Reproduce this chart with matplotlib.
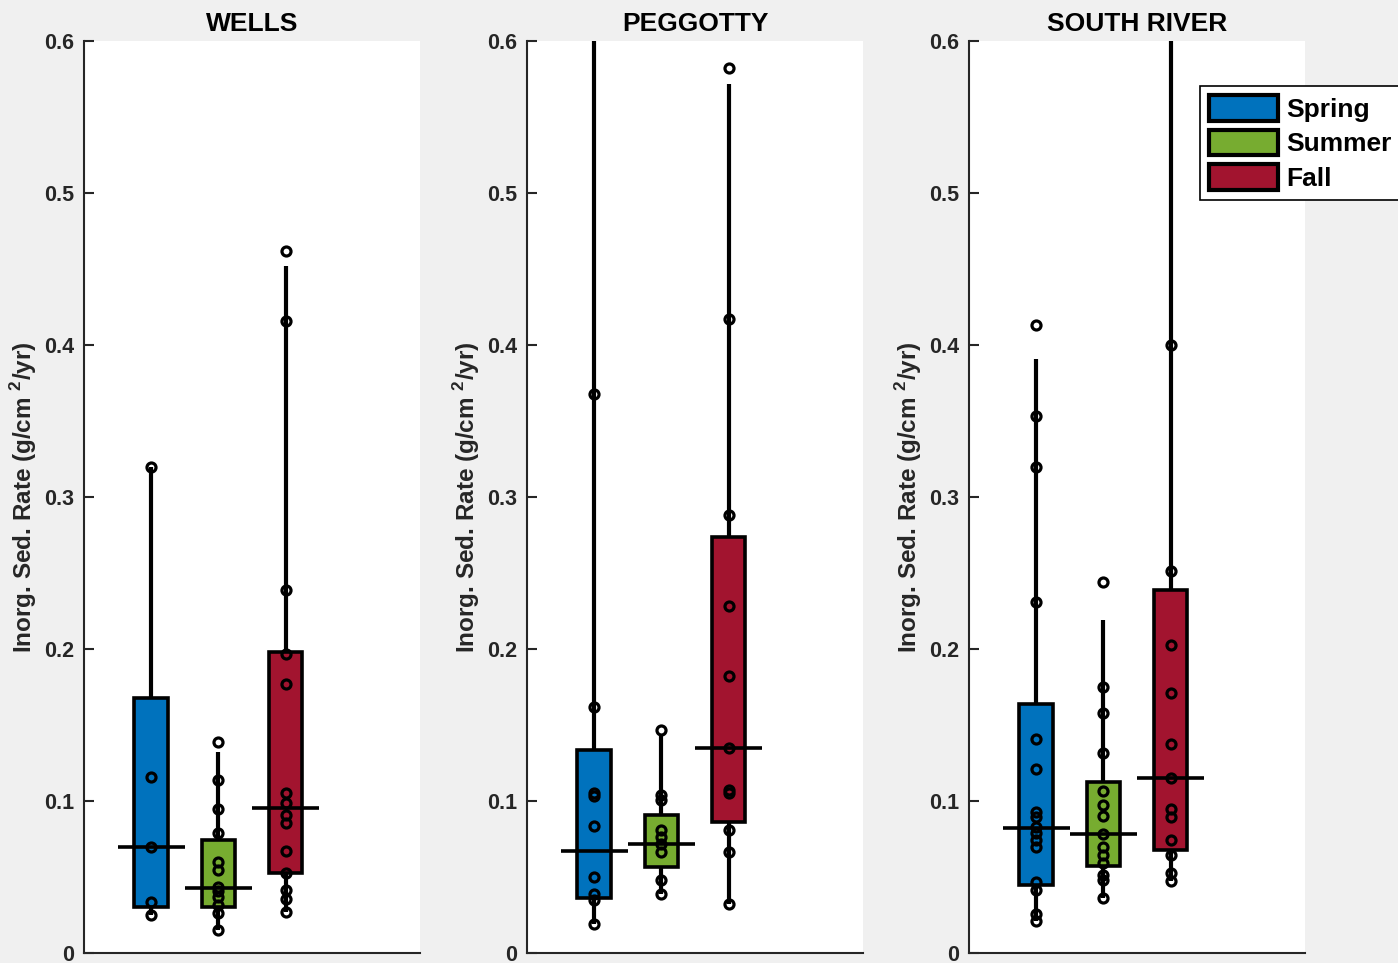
import numpy as np
import matplotlib.pyplot as plt
from matplotlib.patches import Patch

plt.rcParams['font.family'] = ['Liberation Sans', 'DejaVu Sans']
plt.rcParams['font.weight'] = 'bold'
plt.rcParams['mathtext.fontset'] = 'custom'
plt.rcParams['mathtext.rm'] = 'Liberation Sans:bold'
plt.rcParams['mathtext.bf'] = 'Liberation Sans:bold'

sites = ['WELLS', 'PEGGOTTY', 'SOUTH RIVER']
seasons = ['Spring', 'Summer', 'Fall']
colors = ['#0072BD', '#77AC30', '#A2142F']

# box stats per site, per season: q1, median, q3, whisker low, whisker high
q1 = [[0.030, 0.030, 0.0526],
      [0.036, 0.0566, 0.086],
      [0.045, 0.057, 0.068]]
med = [[0.070, 0.0428, 0.0954],
       [0.067, 0.0717, 0.135],
       [0.082, 0.078, 0.115]]
q3 = [[0.168, 0.0743, 0.198],
      [0.1336, 0.0908, 0.274],
      [0.164, 0.1125, 0.239]]
whis_lo = [[0.025, 0.0151, 0.027],
           [0.019, 0.039, 0.032],
           [0.021, 0.036, 0.0474]]
whis_hi = [[0.320, 0.132, 0.452],
           [0.75, 0.143, 0.572],
           [0.391, 0.219, 0.75]]

# individual samples
wells_spring = [0.320, 0.116, 0.070, 0.0335, 0.025]
wells_summer = [0.1386, 0.1138, 0.0945, 0.0787, 0.0601, 0.0546, 0.0436, 0.0410,
                0.0370, 0.0316, 0.0261, 0.0151]
wells_fall = [0.462, 0.416, 0.239, 0.197, 0.177, 0.105, 0.099, 0.091, 0.0855,
              0.067, 0.0526, 0.0414, 0.0355, 0.027]
pegg_spring = [0.368, 0.162, 0.105, 0.103, 0.0834, 0.050, 0.039, 0.035, 0.019]
pegg_summer = [0.147, 0.104, 0.1005, 0.081, 0.0763, 0.0717, 0.0664, 0.048, 0.039]
pegg_fall = [0.582, 0.417, 0.288, 0.228, 0.182, 0.135, 0.107, 0.105, 0.081,
             0.0664, 0.032]
south_spring = [0.413, 0.353, 0.320, 0.231, 0.141, 0.121, 0.0928, 0.0895, 0.083,
                0.079, 0.0743, 0.070, 0.0467, 0.0414, 0.0257, 0.021]
south_summer = [0.244, 0.175, 0.158, 0.1316, 0.1066, 0.0974, 0.090, 0.078, 0.070,
                0.0645, 0.059, 0.051, 0.048, 0.036]
south_fall = [0.400, 0.251, 0.2026, 0.171, 0.1375, 0.115, 0.0947, 0.0895, 0.0743,
              0.0645, 0.0526, 0.0474]

points = [[wells_spring, wells_summer, wells_fall],
          [pegg_spring, pegg_summer, pegg_fall],
          [south_spring, south_summer, south_fall]]

yticks = [0, 0.1, 0.2, 0.3, 0.4, 0.5, 0.6]
ytick_labels = ['0', '0.1', '0.2', '0.3', '0.4', '0.5', '0.6']

fig = plt.figure(figsize=(13.98, 9.63), dpi=100, facecolor='#F0F0F0')
lefts = [84 / 1398, 527 / 1398, 969 / 1398]
gray = '#262626'

for i, site in enumerate(sites):
    ax = fig.add_axes([lefts[i], 10 / 963, 336 / 1398, 912 / 963])
    ax.set_facecolor('white')
    for j in range(3):
        x = j + 1
        ax.vlines(x, q3[i][j], whis_hi[i][j], color='black', lw=3, zorder=1)
        ax.vlines(x, whis_lo[i][j], q1[i][j], color='black', lw=3, zorder=1)
        ax.bar(x, q3[i][j] - q1[i][j], bottom=q1[i][j], width=0.5,
               color=colors[j], edgecolor='black', linewidth=2.6, zorder=2)
        ax.hlines(med[i][j], x - 0.5, x + 0.5, color='black', lw=2.6, zorder=3)
        ax.plot([x] * len(points[i][j]), points[i][j], 'o', ms=6.5, mew=2.3,
                mfc='none', mec='black', zorder=4)
    ax.set_xlim(0, 5)
    ax.set_ylim(0, 0.6)
    ax.set_xticks([])
    ax.set_yticks(yticks)
    ax.set_yticklabels(ytick_labels)
    ax.tick_params(axis='y', direction='in', length=7, width=1.5,
                   labelsize=15.5, colors=gray, pad=7)
    for s in ['top', 'right']:
        ax.spines[s].set_visible(False)
    for s in ['left', 'bottom']:
        ax.spines[s].set_color(gray)
        ax.spines[s].set_linewidth(1.5)
    ax.set_ylabel(r'Inorg. Sed. Rate (g/cm $^{\mathbf{2}}$/yr)', fontsize=17.5,
                  fontweight='bold', color=gray, labelpad=4)
    ax.set_title(site, fontsize=19, fontweight='bold', pad=7)

handles = [Patch(facecolor=c, edgecolor='black', linewidth=3) for c in colors]
leg = fig.legend(handles, seasons, loc='upper left',
                 bbox_to_anchor=(1200 / 1398, (963 - 86) / 963),
                 borderaxespad=0, prop={'size': 19, 'weight': 'bold'},
                 fancybox=False, framealpha=1,
                 edgecolor='black', handlelength=2.6, handleheight=1.1,
                 handletextpad=0.3, labelspacing=0.3, borderpad=0.35)
leg.get_frame().set_linewidth(1.2)

fig.savefig('out.png', dpi=100, facecolor=fig.get_facecolor())
